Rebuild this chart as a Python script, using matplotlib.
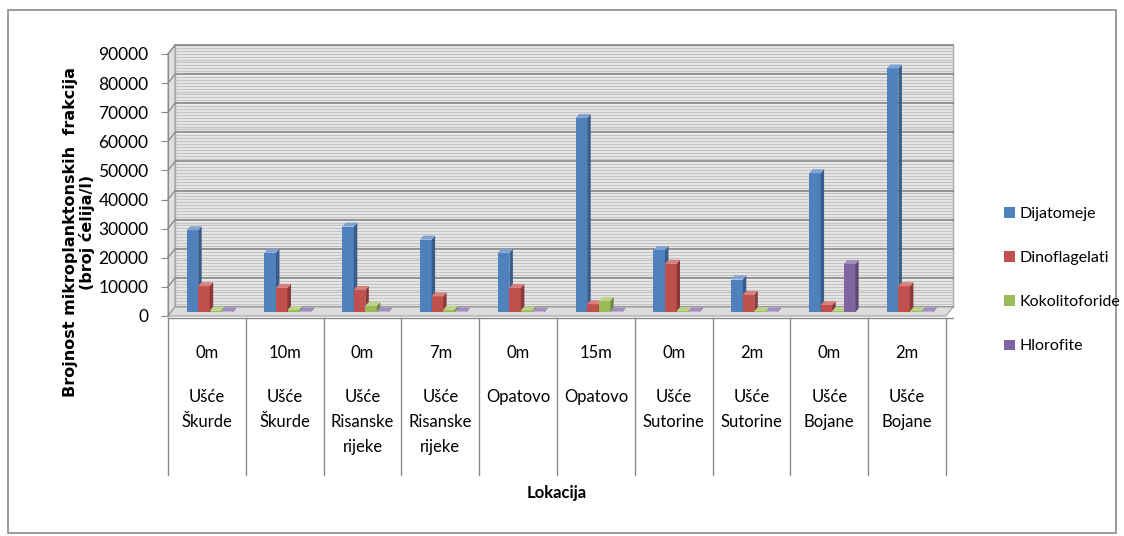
import numpy as np
import matplotlib.pyplot as plt
from matplotlib.patches import Rectangle, Polygon
from matplotlib.transforms import blended_transform_factory

plt.rcParams['font.family'] = ['Lato', 'DejaVu Sans']

dubine = ['0m', '10m', '0m', '7m', '0m', '15m', '0m', '2m', '0m', '2m']
lokacije = ['Ušće\nŠkurde', 'Ušće\nŠkurde', 'Ušće\nRisanske\nrijeke', 'Ušće\nRisanske\nrijeke',
            'Opatovo', 'Opatovo', 'Ušće\nSutorine', 'Ušće\nSutorine', 'Ušće\nBojane', 'Ušće\nBojane']

serije = ['Dijatomeje', 'Dinoflagelati', 'Kokolitoforide', 'Hlorofite']
dijatomeje = [28200, 20500, 29500, 25000, 20500, 66800, 21400, 11300, 47800, 83800]
dinoflagelati = [9000, 8400, 7700, 5500, 8400, 2800, 16700, 6000, 2500, 9000]
kokolitoforide = [600, 800, 2200, 900, 700, 3900, 400, 400, 400, 400]
hlorofite = [300, 300, 300, 300, 300, 300, 300, 300, 16600, 300]

boje = ['#4F81BD', '#C0504D', '#9BBB59', '#8064A2']
boje_strana = ['#385D8A', '#8C3836', '#71893F', '#5C4776']
boje_vrh = ['#7FA3D3', '#D8807E', '#BBD48A', '#A58DC2']

W, H = 1124, 536
fig = plt.figure(figsize=(W / 100, H / 100), dpi=100)
fig.patch.set_facecolor('white')

# okvir grafikona
fig.patches.append(Rectangle((8 / W, 3 / H), 1108 / W, 523 / H, transform=fig.transFigure,
                             fill=False, edgecolor='#8a8a8a', lw=1.2))

x_l, x_r, y0, y_top = 168, 946, 316, 54
ax = fig.add_axes([x_l / W, (H - y0) / H, (x_r - x_l) / W, (y0 - y_top) / H])
n = len(dubine)
ymax = 90000
ax.set_xlim(0, n)
ax.set_ylim(0, ymax)

px_x = (x_r - x_l) / n
px_y = (y0 - y_top) / ymax

# 3D dubina (pikseli -> podaci)
ddx = 7 / px_x
ddy = 9 / px_y

# zadnji zid
ax.add_patch(Rectangle((ddx, ddy), n, ymax, facecolor='#ececec', edgecolor='#a0a0a0',
                       lw=1, zorder=0, clip_on=False))
for v in range(0, ymax + 1, 1000):
    major = v % 10000 == 0
    ax.plot([ddx, n + ddx], [v + ddy, v + ddy], color='#8c8c8c' if major else '#c4c4c4',
            lw=1.3 if major else 1.0, zorder=0.5, clip_on=False)

# lijevi zid
ax.add_patch(Polygon([(0, 0), (ddx, ddy), (ddx, ymax + ddy), (0, ymax)], closed=True,
                     facecolor='#e0e0e0', edgecolor='#a0a0a0', lw=0.8, zorder=0.6, clip_on=False))
for v in range(0, ymax + 1, 10000):
    ax.plot([0, ddx], [v, v + ddy], color='#8c8c8c', lw=1.0, zorder=0.7, clip_on=False)

# pod
ax.add_patch(Polygon([(0, 0), (n, 0), (n + ddx, ddy), (ddx, ddy)], closed=True,
                     facecolor='#dcdcdc', edgecolor='#a0a0a0', lw=0.8, zorder=0.8, clip_on=False))

# stupci
vrijednosti = [dijatomeje, dinoflagelati, kokolitoforide, hlorofite]
w = 0.148
bx = 3.5 / px_x
by = 4 / px_y
baza = ddy * 0.4
centri = np.arange(n) + 0.5
for k, (ime, vals) in enumerate(zip(serije, vrijednosti)):
    xs = centri + (k - 1.5) * w + ddx * 0.4
    bars = ax.bar(xs, vals, width=w, bottom=baza, color=boje[k], label=ime,
                  zorder=2 + k, clip_on=False)
    for r in bars:
        x0 = r.get_x()
        x1 = x0 + r.get_width()
        h = r.get_height()
        ax.add_patch(Polygon([(x1, baza), (x1 + bx, baza + by), (x1 + bx, baza + h + by), (x1, baza + h)],
                             closed=True, facecolor=boje_strana[k], lw=0, zorder=2 + k, clip_on=False))
        ax.add_patch(Polygon([(x0, baza + h), (x1, baza + h), (x1 + bx, baza + h + by), (x0 + bx, baza + h + by)],
                             closed=True, facecolor=boje_vrh[k], lw=0, zorder=2 + k, clip_on=False))

# osi
for s in ['top', 'right', 'bottom']:
    ax.spines[s].set_visible(False)
ax.spines['left'].set_color('#8a8a8a')
ax.set_xticks([])
ax.set_yticks(range(0, ymax + 1, 10000))
ax.tick_params(axis='y', length=5, color='#8a8a8a', labelsize=12.5, pad=9)
ax.patch.set_visible(False)

# tablica kategorija
tr = blended_transform_factory(ax.transData, ax.transAxes)
def ya(py):
    return (y0 - py) / (y0 - y_top)

for i in range(n + 1):
    ax.plot([i, i], [ya(318), ya(475)], transform=tr, color='#8a8a8a', lw=1, clip_on=False)
ax.plot([0, n + ddx], [ya(318), ya(318)], transform=tr, color='#8a8a8a', lw=1, clip_on=False)
for i in range(n):
    ax.text(i + 0.5, ya(353), dubine[i], transform=tr, ha='center', va='center', fontsize=12)
    ax.text(i + 0.5, ya(389), lokacije[i], transform=tr, ha='center', va='top', fontsize=12,
            linespacing=1.68)

ax.text(n / 2, ya(493), 'Lokacija', transform=tr, ha='center', va='center', fontsize=12,
        fontweight='bold')

fig.text(79 / W, 1 - 232 / H, 'Brojnost mikroplanktonskih  frakcija\n(broj ćelija/l)',
         rotation=90, ha='center', va='center', fontsize=11.5, fontweight='bold',
         family='DejaVu Sans', multialignment='center', linespacing=1.05)

fig.legend(loc='upper left', bbox_to_anchor=(990 / W, 1 - 193 / H), frameon=False,
           fontsize=11.5, handlelength=0.65, handleheight=0.65, handletextpad=0.3,
           labelspacing=1.88)

fig.savefig('out.png', dpi=100)
